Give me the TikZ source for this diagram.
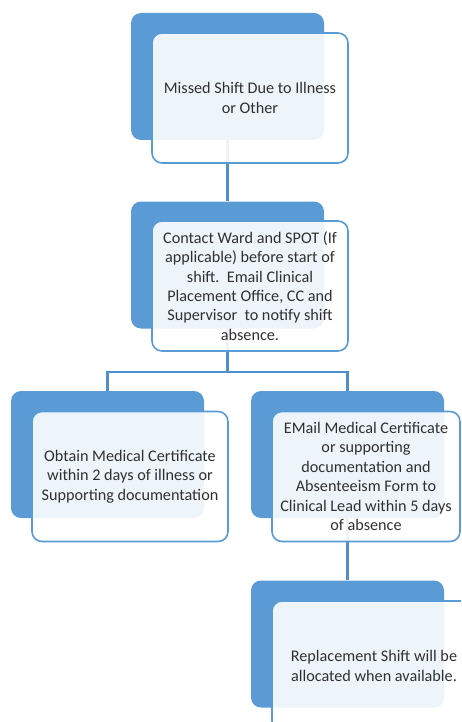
\documentclass[tikz,border=0pt]{standalone}
\usepackage{fontspec}
\setmainfont{Carlito}
\definecolor{ofblue}{HTML}{5B9BD5}
\definecolor{lnblue}{HTML}{4F8FCB}
\definecolor{txt}{HTML}{303030}
\begin{document}
\begin{tikzpicture}[x=1pt,y=-1pt,
  backbox/.style={draw=none,fill=ofblue,rounded corners=10pt,minimum width=193pt,minimum height=127pt,inner sep=0pt},
  frontbox/.style={draw=ofblue,line width=1.6pt,fill=white,fill opacity=0.9,text opacity=1,rounded corners=10pt,minimum width=196pt,minimum height=130pt,inner sep=0pt,align=center,text=txt,font=\fontsize{16.2}{19.4}\selectfont},
  conn/.style={draw=lnblue,line width=2.8pt}]
\useasboundingbox (0,0) rectangle (461,722);
\clip (0,0) rectangle (461,722);
% back boxes
\node[backbox] (b1) at (227.5,76.5) {};
\node[backbox] (b2) at (227.5,265) {};
\node[backbox] (b3) at (107.5,454.5) {};
\node[backbox] (b4) at (347.5,454.5) {};
\node[backbox] (b5) at (347.5,644) {};
% connectors
\coordinate (split) at (227.5,372);
\draw[conn] (b1.south) -- (b2.north);
\draw[conn] (b2.south) -- (split) -| (b3.north);
\draw[conn] (split) -| (b4.north);
\draw[conn] (b4.south) -- (b5.north);
% front boxes
\node[frontbox] (f1) at (250,98) {Missed Shift Due to Illness\\or Other};
\node[frontbox] (f2) at (250,286) {Contact Ward and SPOT (If\\applicable) before start of\\shift.\ \ Email Clinical\\Placement Office, CC and\\Supervisor\ \ to notify shift\\absence.};
\node[frontbox] (f3) at (130,476.5) {Obtain Medical Certificate\\within 2 days of illness or\\Supporting documentation};
\node[frontbox,minimum width=188pt] (f4) at (366,476.5) {EMail Medical Certificate\\or supporting\\documentation and\\Absenteeism Form to\\Clinical Lead within 5 days\\of absence};
\node[frontbox,minimum width=204pt] (f5) at (374,666) {Replacement Shift will be\\allocated when available.};
\end{tikzpicture}
\end{document}
